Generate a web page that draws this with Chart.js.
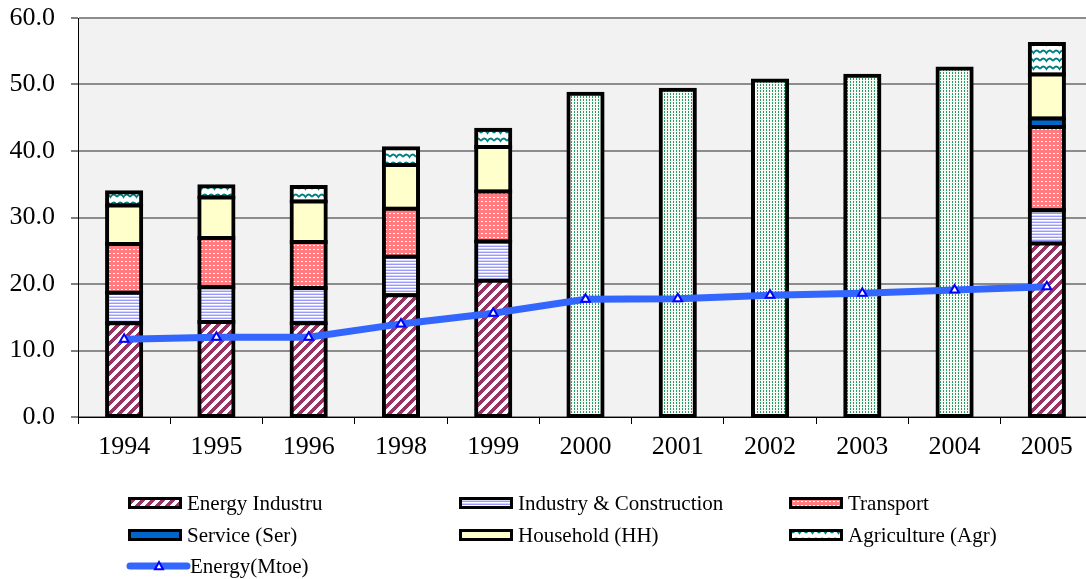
<!DOCTYPE html>
<html>
<head>
<meta charset="utf-8">
<title>Energy consumption by sector</title>
<script src="https://cdn.jsdelivr.net/npm/chart.js@4/dist/chart.umd.min.js"></script>
<style>
  html, body { margin: 0; padding: 0; background: #ffffff; overflow: hidden; }
  #wrap { width: 1086px; height: 579px; overflow: hidden; position: relative; }
  canvas { display: block; }
</style>
</head>
<body>
<div id="wrap"><canvas id="chart" width="1100" height="579"></canvas></div>
<script>
// Years on the category axis
const years = ['1994', '1995', '1996', '1998', '1999', '2000', '2001', '2002', '2003', '2004', '2005'];

// Sector breakdown (Mtoe), stacked
const energyIndustry = [14.1, 14.3, 14.1, 18.3, 20.5, null, null, null, null, null, 26.1];
const industryConstruction = [4.6, 5.2, 5.3, 5.8, 5.9, null, null, null, null, null, 5.0];
const transport = [7.3, 7.4, 6.9, 7.2, 7.5, null, null, null, null, null, 12.5];
const service = [null, null, null, null, null, null, null, null, null, null, 1.3];
const household = [5.8, 6.1, 6.1, 6.6, 6.7, null, null, null, null, null, 6.6];
const agriculture = [2.0, 1.7, 2.2, 2.5, 2.6, null, null, null, null, null, 4.6];

// Totals only (no sector split available)
const totalOnly = [null, null, null, null, null, 48.6, 49.2, 50.6, 51.3, 52.4, null];

// Energy line (Mtoe)
const energyMtoe = [11.7, 12.0, 12.0, 14.0, 15.6, 17.7, 17.8, 18.3, 18.6, 19.1, 19.6];

// Value axis ticks
const yTicks = [0, 10, 20, 30, 40, 50, 60];

const SERIF = '"Liberation Serif", "Times New Roman", serif';

// ---- fill patterns ----
function makePattern(w, h, paint) {
  const c = document.createElement('canvas');
  c.width = w; c.height = h;
  const g = c.getContext('2d');
  paint(g, w, h);
  return document.getElementById('chart').getContext('2d').createPattern(c, 'repeat');
}

const patDiagonal = makePattern(10, 10, (g, w, h) => {
  g.fillStyle = '#ffffff'; g.fillRect(0, 0, w, h);
  g.fillStyle = '#993366';
  for (let y = 0; y < h; y++) for (let x = 0; x < w; x++) {
    if ((x + y) % 10 < 5) g.fillRect(x, y, 1, 1);
  }
});

const patHorizontal = makePattern(3, 3, (g) => {
  g.fillStyle = '#ffffff'; g.fillRect(0, 0, 3, 3);
  g.fillStyle = '#9999ff'; g.fillRect(0, 0, 3, 1);
  g.fillStyle = '#d6d6ff'; g.fillRect(0, 2, 3, 1);
});

const patDots = makePattern(4, 4, (g) => {
  g.fillStyle = '#ff7c80'; g.fillRect(0, 0, 4, 4);
  g.fillStyle = '#ffffff'; g.fillRect(1, 1, 2, 1);
});

const patWave = makePattern(13, 8, (g, w, h) => {
  g.fillStyle = '#ffffff'; g.fillRect(0, 0, w, h);
  g.strokeStyle = '#008080'; g.lineWidth = 1.8;
  g.beginPath();
  g.moveTo(0, 5);
  g.quadraticCurveTo(3.25, 0, 6.5, 5);
  g.quadraticCurveTo(9.75, 0, 13, 5);
  g.stroke();
});

const patGreenDots = makePattern(3, 3, (g) => {
  g.fillStyle = '#f7fbf8'; g.fillRect(0, 0, 3, 3);
  g.fillStyle = '#2e9960'; g.fillRect(1, 0, 1, 2);
});

// ---- plot background ----
const plotBackground = {
  id: 'plotBackground',
  beforeDraw(chart) {
    const { ctx, chartArea: a } = chart;
    ctx.save();
    ctx.fillStyle = '#f2f2f2';
    ctx.fillRect(a.left, a.top, a.right - a.left, a.bottom - a.top);
    ctx.restore();
  }
};

// ---- three-column legend below the axis ----
const columnLegend = {
  id: 'columnLegend',
  afterDraw(chart) {
    const { ctx } = chart;
    const cols = [128, 459, 789];
    const rows = [503, 535, 566];
    const items = chart.data.datasets.filter(d => d.label !== 'Total');
    ctx.save();
    ctx.font = '21px ' + SERIF;
    ctx.textBaseline = 'middle';
    ctx.fillStyle = '#000000';
    items.forEach((ds, i) => {
      const x = cols[i % 3];
      const y = rows[Math.floor(i / 3)];
      if (ds.type === 'line') {
        ctx.strokeStyle = ds.borderColor;
        ctx.lineWidth = 7;
        ctx.lineCap = 'round';
        ctx.beginPath();
        ctx.moveTo(x + 2, y);
        ctx.lineTo(x + 59, y);
        ctx.stroke();
        ctx.lineCap = 'butt';
        const cx = x + 31, r = 4;
        ctx.beginPath();
        ctx.moveTo(cx, y - r);
        ctx.lineTo(cx + r, y + r * 0.8);
        ctx.lineTo(cx - r, y + r * 0.8);
        ctx.closePath();
        ctx.fillStyle = '#ffffff';
        ctx.fill();
        ctx.lineWidth = 2;
        ctx.strokeStyle = '#0000ff';
        ctx.stroke();
        ctx.fillStyle = '#000000';
        ctx.fillText(ds.label, x + 62, y + 1);
      } else {
        ctx.fillStyle = ds.backgroundColor;
        ctx.fillRect(x, y - 6, 54, 12);
        ctx.lineWidth = 3;
        ctx.strokeStyle = '#000000';
        ctx.strokeRect(x + 1.5, y - 4.5, 51, 9);
        ctx.fillStyle = '#000000';
        ctx.fillText(ds.label, x + 59, y + 1);
      }
    });
    ctx.restore();
  }
};

function barSet(label, data, fill) {
  return {
    type: 'bar', label, data,
    backgroundColor: fill,
    borderColor: '#000000',
    borderWidth: 4,
    inflateAmount: 2,
    borderSkipped: false,
    categoryPercentage: 1,
    barPercentage: 0.37,
    order: 1
  };
}

new Chart(document.getElementById('chart'), {
  data: {
    labels: years,
    datasets: [
      barSet('Energy Industru', energyIndustry, patDiagonal),
      barSet('Industry & Construction', industryConstruction, patHorizontal),
      barSet('Transport', transport, patDots),
      barSet('Service (Ser)', service, '#0066cc'),
      barSet('Household (HH)', household, '#ffffcc'),
      barSet('Agriculture (Agr)', agriculture, patWave),
      {
        type: 'line', label: 'Energy(Mtoe)', data: energyMtoe,
        borderColor: '#3366ff', borderWidth: 7,
        pointStyle: 'triangle', pointRadius: 5,
        pointBackgroundColor: '#ffffff', pointBorderColor: '#0000ff', pointBorderWidth: 2,
        tension: 0, stack: 'energy', order: 0
      },
      barSet('Total', totalOnly, patGreenDots)
    ]
  },
  options: {
    responsive: false,
    animation: false,
    devicePixelRatio: 1,
    layout: { padding: { top: 18, right: 7, bottom: 100, left: 0 } },
    plugins: { legend: { display: false }, tooltip: { enabled: false } },
    scales: {
      x: {
        stacked: true,
        offset: true,
        grid: { display: true, drawOnChartArea: false, offset: true, color: '#000000', tickLength: 7, lineWidth: 1 },
        border: { display: true, color: '#000000', width: 1 },
        ticks: { color: '#000000', font: { family: SERIF, size: 26 }, padding: 8, maxRotation: 0 },
        afterFit(scale) { scale.height = 62; }
      },
      y: {
        stacked: true,
        min: 0, max: 60,
        afterBuildTicks(scale) { scale.ticks = yTicks.map(v => ({ value: v })); },
        grid: { color: '#8c8c8c', lineWidth: 2, tickColor: '#000000', tickWidth: 1, tickLength: 7 },
        border: { display: true, color: '#000000', width: 1 },
        ticks: {
          color: '#000000', font: { family: SERIF, size: 26 }, padding: 16,
          callback: v => Number(v).toFixed(1)
        },
        afterFit(scale) {
          scale.width = 78;
          scale.paddingTop = 0;
          scale.paddingBottom = 0;
        }
      }
    }
  },
  plugins: [plotBackground, columnLegend]
});
</script>
</body>
</html>
